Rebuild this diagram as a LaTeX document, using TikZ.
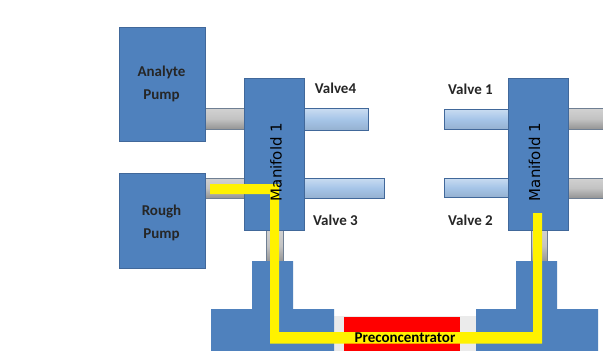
\documentclass[tikz,border=0pt]{standalone}
\usepackage{fontspec}
\setmainfont{Carlito}
\newfontfamily\manifont{DejaVu Sans}
\definecolor{bluebox}{HTML}{4F81BD}
\definecolor{blueedge}{HTML}{41689A}
\definecolor{tubeblue}{HTML}{A6C5E8}
\definecolor{tubegray}{HTML}{B4B4B4}
\definecolor{tubeedge}{HTML}{6F7F93}
\definecolor{palegray}{HTML}{EBEBEB}
\definecolor{hotyellow}{HTML}{FFF200}
\definecolor{hotred}{HTML}{FF0000}
\tikzset{
  bluebox/.style={fill=bluebox,draw=blueedge,line width=0.8pt},
  bluepart/.style={fill=bluebox,draw=none},
  graytube/.style={top color=black!18,bottom color=black!42,middle color=tubegray!80,draw=tubeedge,line width=1pt},
  bluetube/.style={top color=tubeblue!60,bottom color=tubeblue!90!black,middle color=tubeblue,draw=blueedge,line width=1pt},
  boxlabel/.style={font=\fontsize{15}{23}\selectfont\bfseries,align=center,text=black!85,inner sep=0pt},
  valvelabel/.style={font=\fontsize{15}{15}\selectfont\bfseries,text=black!85,inner sep=0pt},
  manilabel/.style={font=\manifont\fontsize{15}{15}\selectfont,rotate=90,text=black,inner sep=0pt}
}
\begin{document}
\begin{tikzpicture}[x=1pt,y=-1pt]
\useasboundingbox (0,0) rectangle (603,351);
\fill[white] (0,0) rectangle (603,351);
% tubes
\path[graytube] (205,108.5) rectangle (244,129);
\path[graytube] (205,178) rectangle (244,198);
\path[graytube] (568,108.5) rectangle (604,129);
\path[graytube] (568,178) rectangle (604,198);
\path[graytube] (266,230) rectangle (283,262);
\path[graytube] (531,230) rectangle (547,262);
\path[bluetube] (304,108.5) rectangle (368,130);
\path[bluetube] (304,178) rectangle (384,198);
\path[bluetube] (444,109) rectangle (508,129);
\path[bluetube] (444,178) rectangle (508,197);
% preconcentrator
\fill[palegray] (334,316) rectangle (476,352);
\fill[hotred] (344,317) rectangle (460,352);
% lower T blocks
\fill[bluepart] (252,261) -- (293,261) -- (293,309) -- (334,309) -- (334,352) -- (211,352) -- (211,309) -- (252,309) -- cycle;
\fill[bluepart] (516,261) -- (557,261) -- (557,309) -- (598,309) -- (598,352) -- (476,352) -- (476,309) -- (516,309) -- cycle;
% boxes
\node[bluebox,minimum width=86pt,minimum height=114pt,anchor=north west,inner sep=0pt] (analyte) at (119,27) {};
\node[bluebox,minimum width=86pt,minimum height=95pt,anchor=north west,inner sep=0pt] (rough) at (119,173) {};
\node[bluebox,minimum width=60pt,minimum height=152pt,anchor=north west,inner sep=0pt] (manL) at (244,78) {};
\node[bluebox,minimum width=60pt,minimum height=152pt,anchor=north west,inner sep=0pt] (manR) at (507.5,78) {};
% flow path
\fill[hotyellow] (210,184) -- (279,184) -- (279,332) -- (533,332) -- (533,213) -- (542,213) -- (542,343.5) -- (270,343.5) -- (270,194) -- (210,194) -- cycle;
% labels
\node[boxlabel] (analyteT) at (161.5,84) {Analyte\\Pump};
\node[boxlabel] (roughT) at (161.5,223) {Rough\\Pump};
\node[manilabel] (manLT) at (276,162) {Manifold 1};
\node[manilabel] (manRT) at (534.5,162) {Manifold 1};
\node[valvelabel] (v4) at (335.5,88) {Valve4};
\node[valvelabel] (v3) at (335.5,220) {Valve 3};
\node[valvelabel] (v1) at (470.5,89) {Valve 1};
\node[valvelabel] (v2) at (470.5,220) {Valve 2};
\node[font=\fontsize{15}{15}\selectfont\bfseries,inner sep=0pt,text=black] (pre) at (405,337.5) {Preconcentrator};
\end{tikzpicture}
\end{document}
